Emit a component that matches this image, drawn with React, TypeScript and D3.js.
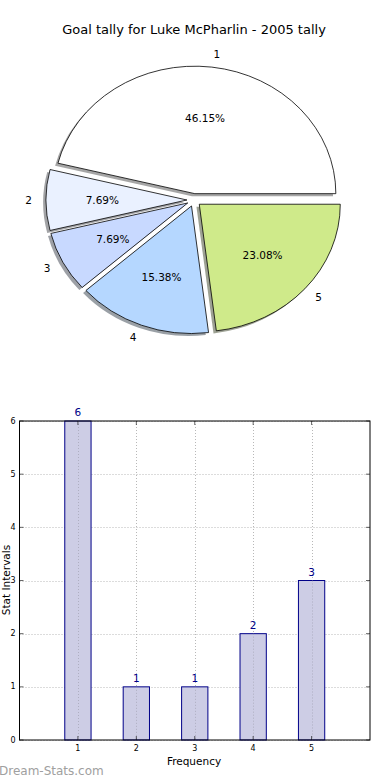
import React from "react";
import * as d3 from "d3";

const title = "Goal tally for Luke McPharlin - 2005 tally";
const categories = ["1", "2", "3", "4", "5"];
const tallies = [6, 1, 1, 2, 3];
const sliceColors = ["#ffffff", "#eaf1ff", "#c8d9ff", "#b5d7ff", "#cfea8a"];
const yTicks = [0, 1, 2, 3, 4, 5, 6];
const xLabel = "Frequency";
const yLabel = "Stat Intervals";
const watermark = "Dream-Stats.com";

const W = 390;
const H = 780;
const font = "DejaVu Sans, sans-serif";

// pie geometry (matplotlib pie on a non-equal axis, so it's an ellipse)
const pieCx = 194;
const pieCy = 200;
const rx = 141;
const ry = 127.5;
const explode = 0.05;

function shade(c: string) {
  const col = d3.rgb(c);
  return d3.rgb(col.r * 0.3, col.g * 0.3, col.b * 0.3).toString();
}

export default function App() {
  const total = d3.sum(tallies);
  const pie = d3
    .pie<number>()
    .sort(null)
    .startAngle(Math.PI / 2)
    .endAngle(Math.PI / 2 - 2 * Math.PI);
  const arcs = pie(tallies);
  const unitArc = d3.arc<d3.PieArcDatum<number>>().innerRadius(0).outerRadius(1);

  const slices = arcs.map((a, i) => {
    const mid = (a.startAngle + a.endAngle) / 2;
    const sx = Math.sin(mid);
    const sy = -Math.cos(mid);
    const ox = pieCx + explode * rx * sx;
    const oy = pieCy + explode * ry * sy;
    return {
      i,
      path: unitArc(a) || "",
      ox,
      oy,
      lx: ox + 1.1 * rx * sx,
      ly: oy + 1.1 * ry * sy,
      px: ox + 0.6 * rx * sx,
      py: oy + 0.6 * ry * sy,
      anchor: sx >= 0 ? "start" : "end",
      pct: ((tallies[i] / total) * 100).toFixed(2) + "%",
    };
  });

  // bar chart
  const x = d3.scaleLinear().domain([0, 6]).range([19.5, 370]);
  const y = d3.scaleLinear().domain([0, 6]).range([740, 421]);
  const barW = 0.45;
  const xTicks = categories.map((c) => +c);

  return (
    <div style={{ position: "absolute", left: 0, top: 0 }}>
      <svg width={W} height={H} style={{ display: "block", background: "#fff" }} fontFamily={font}>
        <rect width={W} height={H} fill="#fff" />
        <text x={194} y={34} textAnchor="middle" fontSize={13} fill="#000">
          {title}
        </text>

        {/* shadows */}
        {slices.map((s) => (
          <g key={"sh" + s.i} transform={`translate(${s.ox - 0.02 * rx},${s.oy + 0.02 * ry}) scale(${rx},${ry})`}>
            <path d={s.path} fill={shade(sliceColors[s.i])} fillOpacity={0.5} stroke="none" />
          </g>
        ))}
        {/* wedges */}
        {slices.map((s) => (
          <g key={"w" + s.i} transform={`translate(${s.ox},${s.oy}) scale(${rx},${ry})`}>
            <path
              d={s.path}
              fill={sliceColors[s.i]}
              stroke="#000"
              strokeWidth={0.8}
              vectorEffect="non-scaling-stroke"
              strokeLinejoin="miter"
            />
          </g>
        ))}
        {slices.map((s) => (
          <g key={"l" + s.i} fontSize={10.5} fill="#000">
            <text x={s.lx} y={s.ly} textAnchor={s.anchor} dominantBaseline="central">
              {categories[s.i]}
            </text>
            <text x={s.px} y={s.py} textAnchor="middle" dominantBaseline="central">
              {s.pct}
            </text>
          </g>
        ))}

        {/* bar chart grid */}
        <g stroke="#b8b8b8" strokeWidth={1} strokeDasharray="1,2">
          {xTicks.map((t) => (
            <line key={"gx" + t} x1={Math.round(x(t)) + 0.5} x2={Math.round(x(t)) + 0.5} y1={y(6)} y2={y(0)} />
          ))}
          {yTicks.map((t) => (
            <line key={"gy" + t} x1={x(0)} x2={x(6)} y1={Math.round(y(t)) + 0.5} y2={Math.round(y(t)) + 0.5} />
          ))}
        </g>

        {/* bars */}
        {tallies.map((v, i) => {
          const c = xTicks[i];
          const x0 = x(c - barW / 2);
          const x1 = x(c + barW / 2);
          return (
            <g key={"b" + i}>
              <rect
                x={x0}
                y={y(v)}
                width={x1 - x0}
                height={y(0) - y(v)}
                fill="#cdcde5"
                stroke="#000088"
                strokeWidth={1}
              />
              <text x={x(c)} y={y(v) - 5} textAnchor="middle" fontSize={10.5} fill="#000088">
                {v}
              </text>
            </g>
          );
        })}
        {/* dotted grid shows through the bars */}
        <g stroke="#9a9aaa" strokeWidth={1} strokeDasharray="1,2" opacity={0.6}>
          {tallies.map((v, i) => (
            <line
              key={"gb" + i}
              x1={Math.round(x(xTicks[i])) + 0.5}
              x2={Math.round(x(xTicks[i])) + 0.5}
              y1={y(v)}
              y2={y(0)}
            />
          ))}
        </g>

        {/* frame */}
        <rect x={x(0)} y={y(6)} width={x(6) - x(0)} height={y(0) - y(6)} fill="none" stroke="#000" strokeWidth={1} />

        {/* ticks */}
        <g stroke="#000" strokeWidth={0.6}>
          {yTicks.map((t) => (
            <g key={"ty" + t}>
              <line x1={x(0)} x2={x(0) + 4} y1={y(t)} y2={y(t)} />
              <line x1={x(6)} x2={x(6) - 4} y1={y(t)} y2={y(t)} />
            </g>
          ))}
          {xTicks.map((t) => (
            <g key={"tx" + t}>
              <line x1={x(t)} x2={x(t)} y1={y(0)} y2={y(0) - 4} />
              <line x1={x(t)} x2={x(t)} y1={y(6)} y2={y(6) + 4} />
            </g>
          ))}
        </g>
        <g fontSize={8} fill="#000">
          {yTicks.map((t) => (
            <text key={"yl" + t} x={x(0) - 4} y={y(t)} textAnchor="end" dominantBaseline="central">
              {t}
            </text>
          ))}
          {xTicks.map((t) => (
            <text key={"xl" + t} x={x(t)} y={y(0) + 11} textAnchor="middle">
              {t}
            </text>
          ))}
        </g>
        <text x={194} y={765} textAnchor="middle" fontSize={10.5} fill="#000">
          {xLabel}
        </text>
        <text
          transform={`translate(10,580) rotate(-90)`}
          textAnchor="middle"
          fontSize={10.5}
          fill="#000"
        >
          {yLabel}
        </text>
        <text x={-1} y={775} fontSize={12} fill="#a0a0a0">
          {watermark}
        </text>
      </svg>
    </div>
  );
}
